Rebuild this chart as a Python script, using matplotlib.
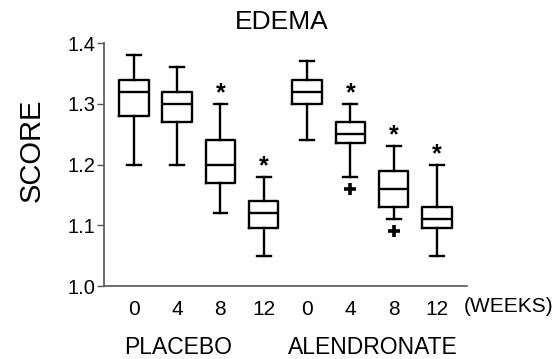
import matplotlib
matplotlib.use("Agg")
import matplotlib.pyplot as plt

plt.rcParams['font.family'] = ['Liberation Sans', 'DejaVu Sans']

# semanas y grupos
weeks = ["0", "4", "8", "12", "0", "4", "8", "12"]
groups = ["PLACEBO", "ALENDRONATE"]

# estadisticas
whislo = [1.20, 1.20, 1.12, 1.05, 1.24, 1.18, 1.11, 1.05]
q1 = [1.28, 1.27, 1.17, 1.095, 1.30, 1.235, 1.13, 1.095]
med = [1.32, 1.30, 1.20, 1.12, 1.32, 1.25, 1.16, 1.11]
q3 = [1.34, 1.32, 1.24, 1.14, 1.34, 1.27, 1.19, 1.13]
whishi = [1.38, 1.36, 1.30, 1.18, 1.37, 1.30, 1.23, 1.20]
fliers = [[], [], [], [], [], [1.16], [1.09], []]
signif = [False, False, True, True, False, True, True, True]

stats = []
for i in range(len(weeks)):
    stats.append(dict(whislo=whislo[i], q1=q1[i], med=med[i], q3=q3[i],
                      whishi=whishi[i], fliers=fliers[i]))

fig = plt.figure(figsize=(5.59, 3.59), dpi=100)
ax = fig.add_axes([0.186, 0.203, 0.649, 0.677])

pos = list(range(1, len(weeks) + 1))
lw = 1.7
ax.bxp(stats, positions=pos, widths=0.68, showfliers=True,
       boxprops=dict(color='black', linewidth=lw),
       medianprops=dict(color='black', linewidth=lw),
       whiskerprops=dict(color='black', linewidth=lw),
       capprops=dict(color='black', linewidth=lw),
       capwidths=0.32,
       flierprops=dict(marker='+', markersize=9, markeredgewidth=2.6,
                       markeredgecolor='black'))

# asteriscos
for i in range(len(weeks)):
    if signif[i]:
        ax.text(pos[i], whishi[i] - 0.002, "*", ha='center', va='bottom',
                fontsize=18, fontweight='bold')

ax.set_xlim(0.31, 8.69)
ax.set_ylim(1.0, 1.4)
ax.set_yticks([1.0, 1.1, 1.2, 1.3, 1.4])
ax.set_yticklabels(["1.0", "1.1", "1.2", "1.3", "1.4"])
ax.set_xticks(pos)
ax.set_xticklabels(weeks)
ax.tick_params(axis='y', length=5, width=1, color='#555555', labelsize=14.5, pad=1)
ax.tick_params(axis='x', length=0, labelsize=15, pad=10)
for s in ['top', 'right']:
    ax.spines[s].set_visible(False)
for s in ['left', 'bottom']:
    ax.spines[s].set_color('#555555')
    ax.spines[s].set_linewidth(1.2)

fig.text(282 / 559, 1 - 22 / 359, "EDEMA", ha='center', va='center', fontsize=19)
fig.text(32 / 559, 1 - 150 / 359, "SCORE", ha='center', va='center',
         rotation=90, fontsize=21)
fig.text(509 / 559, 1 - 307 / 359, "(WEEKS)", ha='center', va='center', fontsize=15)
fig.text(178 / 559, 1 - 348 / 359, groups[0], ha='center', va='center', fontsize=16.5)
fig.text(373 / 559, 1 - 348 / 359, groups[1], ha='center', va='center', fontsize=16.5)

fig.savefig("out.png", dpi=100)
